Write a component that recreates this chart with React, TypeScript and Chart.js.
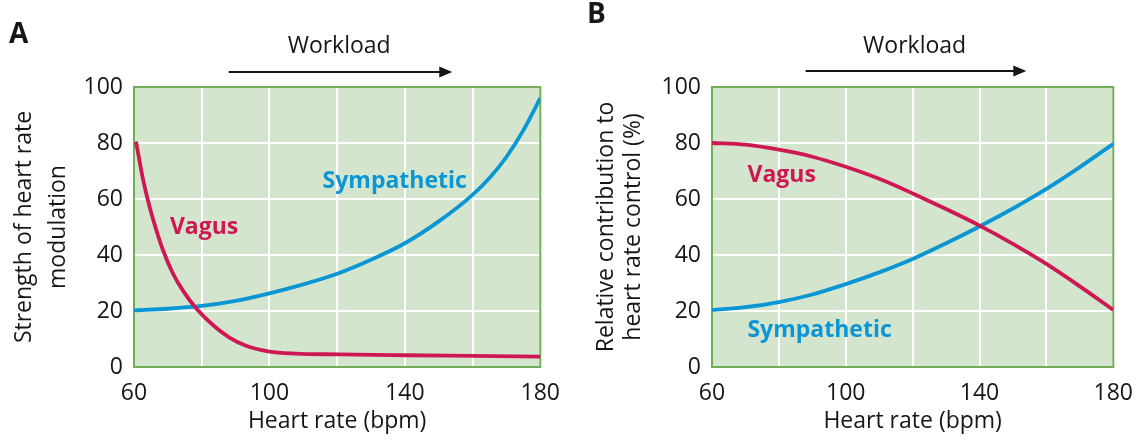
import React, { useEffect, useRef } from 'react';
import { Chart, registerables } from 'chart.js';

Chart.register(...registerables);

const FONT = '"Open Sans", "DejaVu Sans", sans-serif';
const TEXT_COLOR = '#161616';
const VAGUS_COLOR = '#cd1853';
const SYMP_COLOR = '#0a95d4';
const BG_COLOR = '#d4e5ce';
const BORDER_COLOR = '#72ad57';

// ---- tick labels / titles ----
const X_TICK_LABELS = [60, 100, 140, 180];
const X_MIN = 60;
const X_MAX = 180;
const X_STEP = 20;
const Y_MIN = 0;
const Y_MAX = 100;
const Y_STEP = 20;
const X_TITLE = 'Heart rate (bpm)';
const A_Y_TITLE = ['Strength of heart rate', 'modulation'];
const B_Y_TITLE = ['Relative contribution to', 'heart rate control (%)'];
const WORKLOAD_TEXT = 'Workload';
const WORKLOAD_ARROW = [88, 154]; // heart-rate span of the arrow
const WORKLOAD_CENTER = 120.6;

// ---- Panel A data ----
const A_VAGUS_X = [60.6, 62.7, 64.7, 66.7, 68.6, 71.5, 74.5, 78.4, 83.3, 88.2, 93.1, 100, 107.7, 120.4, 140, 160, 180];
const A_VAGUS_Y = [80.5, 66.8, 56.8, 48.5, 41.6, 33.4, 27.2, 20.9, 15.0, 10.5, 7.6, 5.5, 4.8, 4.5, 4.2, 3.95, 3.7];
const A_SYMP_X = [60, 70, 80, 90, 100, 110, 120, 130, 140, 150, 160, 165, 170, 175, 180];
const A_SYMP_Y = [20.2, 20.8, 21.8, 23.6, 26.3, 29.5, 33.3, 38.3, 44.2, 52, 61.5, 67.5, 75, 84.5, 96];

// ---- Panel B data ----
const B_VAGUS_X = [60, 70, 80, 90, 100, 110, 120, 130, 140, 150, 160, 170, 180];
const B_VAGUS_Y = [80, 79.4, 77.6, 75.1, 71.5, 67.2, 62, 56.4, 50.5, 44, 36.8, 28.8, 20.4];
const B_SYMP_X = [60, 70, 80, 90, 100, 110, 120, 130, 140, 150, 160, 170, 180];
const B_SYMP_Y = [20.3, 21.4, 23.2, 25.9, 29.6, 33.8, 38.6, 44.2, 50.2, 56.6, 63.6, 71.4, 79.7];

// ---- curve labels (data coordinates of the text's left/baseline) ----
const A_LABELS = [
  { text: 'Vagus', x: 70.6, y: 47.5, color: VAGUS_COLOR },
  { text: 'Sympathetic', x: 115.7, y: 64.1, color: SYMP_COLOR },
];
const B_LABELS = [
  { text: 'Vagus', x: 70.6, y: 66.2, color: VAGUS_COLOR },
  { text: 'Sympathetic', x: 70.6, y: 10.8, color: SYMP_COLOR },
];

const W = 573;
const H = 446;

const toPoints = (xs: number[], ys: number[]) => xs.map((x, i) => ({ x, y: ys[i] }));

const decorPlugin = {
  id: 'decor',
  beforeDraw(chart: any) {
    const { ctx, chartArea } = chart;
    ctx.save();
    ctx.fillStyle = BG_COLOR;
    ctx.fillRect(chartArea.left, chartArea.top, chartArea.right - chartArea.left, chartArea.bottom - chartArea.top);
    ctx.restore();
  },
  beforeDatasetsDraw(chart: any) {
    const { ctx, chartArea } = chart;
    ctx.save();
    ctx.strokeStyle = BORDER_COLOR;
    ctx.lineWidth = 2;
    ctx.strokeRect(chartArea.left, chartArea.top, chartArea.right - chartArea.left, chartArea.bottom - chartArea.top);
    ctx.restore();
  },
  afterDraw(chart: any, _args: any, opts: any) {
    const { ctx } = chart;
    const xs = chart.scales.x;
    const ys = chart.scales.y;
    ctx.save();
    ctx.textBaseline = 'alphabetic';
    // panel letter
    ctx.fillStyle = TEXT_COLOR;
    ctx.textAlign = 'left';
    ctx.font = `bold 28px ${FONT}`;
    ctx.fillText(opts.letter, opts.letterX, opts.letterY);
    // workload
    ctx.font = `23px ${FONT}`;
    ctx.textAlign = 'center';
    ctx.fillText(WORKLOAD_TEXT, xs.getPixelForValue(WORKLOAD_CENTER), 53);
    const x0 = xs.getPixelForValue(WORKLOAD_ARROW[0]);
    const x1 = xs.getPixelForValue(WORKLOAD_ARROW[1]);
    const ay = opts.arrowY;
    ctx.strokeStyle = TEXT_COLOR;
    ctx.lineWidth = 2;
    ctx.beginPath();
    ctx.moveTo(x0, ay);
    ctx.lineTo(x1 - 8, ay);
    ctx.stroke();
    ctx.beginPath();
    ctx.moveTo(x1, ay);
    ctx.lineTo(x1 - 13, ay - 5.5);
    ctx.lineTo(x1 - 13, ay + 5.5);
    ctx.closePath();
    ctx.fill();
    // curve labels
    ctx.textAlign = 'left';
    ctx.font = `bold 23px ${FONT}`;
    for (const l of opts.labels) {
      ctx.fillStyle = l.color;
      ctx.fillText(l.text, xs.getPixelForValue(l.x), ys.getPixelForValue(l.y));
    }
    ctx.restore();
  },
};

type PanelProps = {
  vagus: { x: number; y: number }[];
  symp: { x: number; y: number }[];
  yTitle: string[];
  titleLineHeight: number;
  titlePadTop: number;
  left: number;
  right: number;
  letter: string;
  letterX: number;
  letterY: number;
  arrowY: number;
  labels: any[];
};

function Panel(p: PanelProps) {
  const ref = useRef<HTMLCanvasElement>(null);
  useEffect(() => {
    if (!ref.current) return;
    const chart = new Chart(ref.current, {
      type: 'line',
      data: {
        datasets: [
          {
            label: 'Vagus',
            data: p.vagus,
            borderColor: VAGUS_COLOR,
            borderWidth: 3.8,
            pointRadius: 0,
            cubicInterpolationMode: 'monotone',
            fill: false,
          },
          {
            label: 'Sympathetic',
            data: p.symp,
            borderColor: SYMP_COLOR,
            borderWidth: 3.8,
            pointRadius: 0,
            cubicInterpolationMode: 'monotone',
            fill: false,
          },
        ],
      },
      options: {
        animation: false,
        responsive: false,
        devicePixelRatio: 1,
        layout: { padding: { top: 87, right: W - p.right, bottom: 0, left: 0 } },
        plugins: {
          legend: { display: false },
          tooltip: { enabled: false },
          decor: {
            letter: p.letter,
            letterX: p.letterX,
            letterY: p.letterY,
            arrowY: p.arrowY,
            labels: p.labels,
          },
        } as any,
        scales: {
          x: {
            type: 'linear',
            min: X_MIN,
            max: X_MAX,
            afterFit: (s: any) => {
              s.height = H - 367;
            },
            ticks: {
              stepSize: X_STEP,
              autoSkip: false,
              maxRotation: 0,
              padding: 13,
              color: TEXT_COLOR,
              font: { family: FONT, size: 23 },
              callback: (v: any) => (X_TICK_LABELS.includes(Number(v)) ? String(v) : ''),
            },
            grid: { color: '#ffffff', lineWidth: 2, drawTicks: false },
            border: { display: false },
            title: {
              display: true,
              text: X_TITLE,
              color: TEXT_COLOR,
              font: { family: FONT, size: 23, lineHeight: 1.2 },
              padding: { top: 0, bottom: 11 },
            },
          },
          y: {
            type: 'linear',
            min: Y_MIN,
            max: Y_MAX,
            afterFit: (s: any) => {
              s.width = p.left;
            },
            ticks: {
              stepSize: Y_STEP,
              padding: 11,
              color: TEXT_COLOR,
              font: { family: FONT, size: 23 },
            },
            grid: { color: '#ffffff', lineWidth: 2, drawTicks: false },
            border: { display: false },
            title: {
              display: true,
              text: p.yTitle,
              color: TEXT_COLOR,
              font: { family: FONT, size: 23, lineHeight: p.titleLineHeight },
              padding: { top: p.titlePadTop, bottom: 0 },
            },
          },
        },
      },
      plugins: [decorPlugin],
    } as any);
    return () => chart.destroy();
  }, []);
  return <canvas ref={ref} width={W} height={H} style={{ width: W, height: H, display: 'block' }} />;
}

export default function App() {
  return (
    <div style={{ position: 'absolute', left: 0, top: 0, width: 1146, height: 446, display: 'flex', background: '#fff' }}>
      <Panel
        vagus={toPoints(A_VAGUS_X, A_VAGUS_Y)}
        symp={toPoints(A_SYMP_X, A_SYMP_Y)}
        yTitle={A_Y_TITLE}
        titleLineHeight={34 / 23}
        titlePadTop={7.5}
        left={134}
        right={543}
        letter="A"
        letterX={9}
        letterY={43}
        arrowY={72}
        labels={A_LABELS}
      />
      <Panel
        vagus={toPoints(B_VAGUS_X, B_VAGUS_Y)}
        symp={toPoints(B_SYMP_X, B_SYMP_Y)}
        yTitle={B_Y_TITLE}
        titleLineHeight={26.5 / 23}
        titlePadTop={20.5}
        left={139}
        right={547}
        letter="B"
        letterX={14}
        letterY={23}
        arrowY={71}
        labels={B_LABELS}
      />
    </div>
  );
}
